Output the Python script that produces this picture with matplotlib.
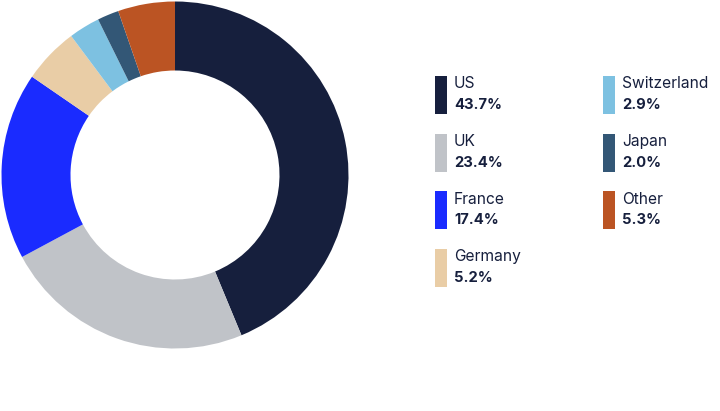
import matplotlib.pyplot as plt
from matplotlib.patches import Rectangle

# ==================================
# DATA
# ==================================

countries = ["US", "UK", "France", "Germany", "Switzerland", "Japan", "Other"]
shares = [43.7, 23.4, 17.4, 5.2, 2.9, 2.0, 5.3]
colors = ["#161f3d", "#c0c3c8", "#1a2bff", "#e9cda6",
          "#7dc1e1", "#335776", "#bb5423"]

TEXT_COLOR = "#161f3d"
W, H = 720, 411

plt.rcParams['font.family'] = ['Inter', 'DejaVu Sans']

fig = plt.figure(figsize=(W / 100, H / 100), dpi=100)

# ==================================
# DONUT
# ==================================

cx, cy, r_out, r_in = 175, 175, 173.5, 104.5
ax = fig.add_axes([(cx - r_out) / W, (H - cy - r_out) / H,
                   2 * r_out / W, 2 * r_out / H])
ax.pie(shares, colors=colors, startangle=90, counterclock=False,
       radius=1, wedgeprops=dict(width=(r_out - r_in) / r_out,
                                 linewidth=0))
ax.set_xlim(-1, 1)
ax.set_ylim(-1, 1)
ax.set_aspect("equal")
ax.axis("off")

# ==================================
# LEGEND
# ==================================

lg = fig.add_axes([0, 0, 1, 1])
lg.set_xlim(0, W)
lg.set_ylim(H, 0)
lg.axis("off")

col_x = [435, 603]
row_y = [76, 133.5, 191, 248.5]
for i, (name, val, c) in enumerate(zip(countries, shares, colors)):
    col = 0 if i < 4 else 1
    row = i if i < 4 else i - 4
    x = col_x[col]
    y = row_y[row]
    lg.add_patch(Rectangle((x, y), 11.5, 38, color=c, linewidth=0))
    lg.text(x + 19, y + 8, name, fontsize=11.2, color=TEXT_COLOR,
            va="center", ha="left")
    lg.text(x + 19, y + 29, f"{val:.1f}%", fontsize=10.6, color=TEXT_COLOR,
            va="center", ha="left", fontweight="bold")

fig.savefig("out.png", dpi=100)
